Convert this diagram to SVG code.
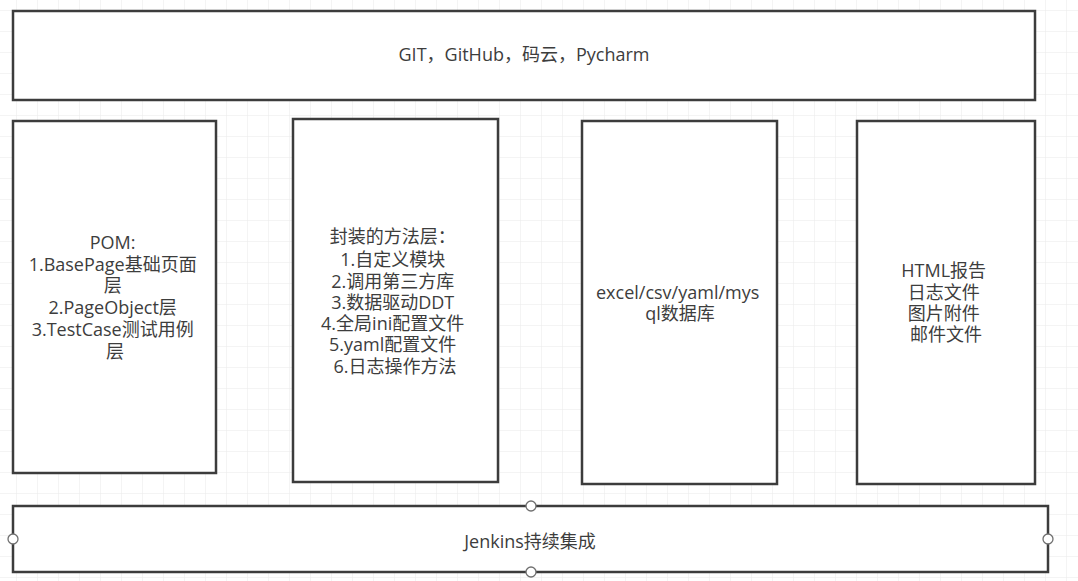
<svg xmlns="http://www.w3.org/2000/svg" width="1078" height="581" viewBox="0 0 1078 581">
  <style>
    .box { fill: #ffffff; stroke: #3c3c3c; stroke-width: 2.5; }
    .lbl { font-family: "Open Sans", "Noto Sans CJK SC", sans-serif; font-size: 18px; fill: #3d3d3d; text-anchor: middle; }
    .handle { fill: #ffffff; stroke: #707070; stroke-width: 1.3; }
  </style>
  <defs>
    <pattern id="grid" x="16" y="10" width="21" height="21" patternUnits="userSpaceOnUse">
      <path d="M0 0 H21 M0 0 V21" fill="none" stroke="#e9e9e9" stroke-width="1"/>
    </pattern>
  </defs>
  <rect x="0" y="0" width="1078" height="581" fill="#ffffff"/>
  <rect x="0" y="0" width="1078" height="581" fill="url(#grid)"/>

  <g id="node-vcs">
    <rect class="box" x="13" y="11" width="1022" height="89"/>
    <text class="lbl" x="524" y="61">GIT，GitHub，码云，Pycharm</text>
  </g>

  <g id="node-pom">
    <rect class="box" x="13" y="121" width="203" height="352"/>
    <text class="lbl">
      <tspan x="115" y="249">POM:</tspan>
      <tspan x="115" y="271">1.BasePage基础页面</tspan>
      <tspan x="115" y="292">层</tspan>
      <tspan x="115" y="314">2.PageObject层</tspan>
      <tspan x="115" y="336">3.TestCase测试用例</tspan>
      <tspan x="115" y="358">层</tspan>
    </text>
  </g>

  <g id="node-methods">
    <rect class="box" x="293" y="119" width="205" height="363"/>
    <text class="lbl">
      <tspan x="395" y="243">封装的方法层：</tspan>
      <tspan x="395" y="266">1.自定义模块</tspan>
      <tspan x="395" y="288">2.调用第三方库</tspan>
      <tspan x="395" y="309">3.数据驱动DDT</tspan>
      <tspan x="395" y="330">4.全局ini配置文件</tspan>
      <tspan x="395" y="351">5.yaml配置文件</tspan>
      <tspan x="395" y="373">6.日志操作方法</tspan>
    </text>
  </g>

  <g id="node-data">
    <rect class="box" x="582" y="121" width="195" height="363"/>
    <text class="lbl">
      <tspan x="680" y="299">excel/csv/yaml/mys</tspan>
      <tspan x="680" y="320">ql数据库</tspan>
    </text>
  </g>

  <g id="node-report">
    <rect class="box" x="857" y="121" width="178" height="363"/>
    <text class="lbl">
      <tspan x="946" y="277">HTML报告</tspan>
      <tspan x="946" y="299">日志文件</tspan>
      <tspan x="946" y="320">图片附件</tspan>
      <tspan x="946" y="341">邮件文件</tspan>
    </text>
  </g>

  <g id="node-jenkins">
    <rect class="box" x="13" y="506" width="1035" height="66"/>
    <text class="lbl" x="530" y="548">Jenkins持续集成</text>
    <circle class="handle" cx="531" cy="506" r="5"/>
    <circle class="handle" cx="531" cy="572" r="5"/>
    <circle class="handle" cx="13" cy="539" r="5"/>
    <circle class="handle" cx="1048" cy="539" r="5"/>
  </g>

  <g id="connectors"></g>
</svg>
